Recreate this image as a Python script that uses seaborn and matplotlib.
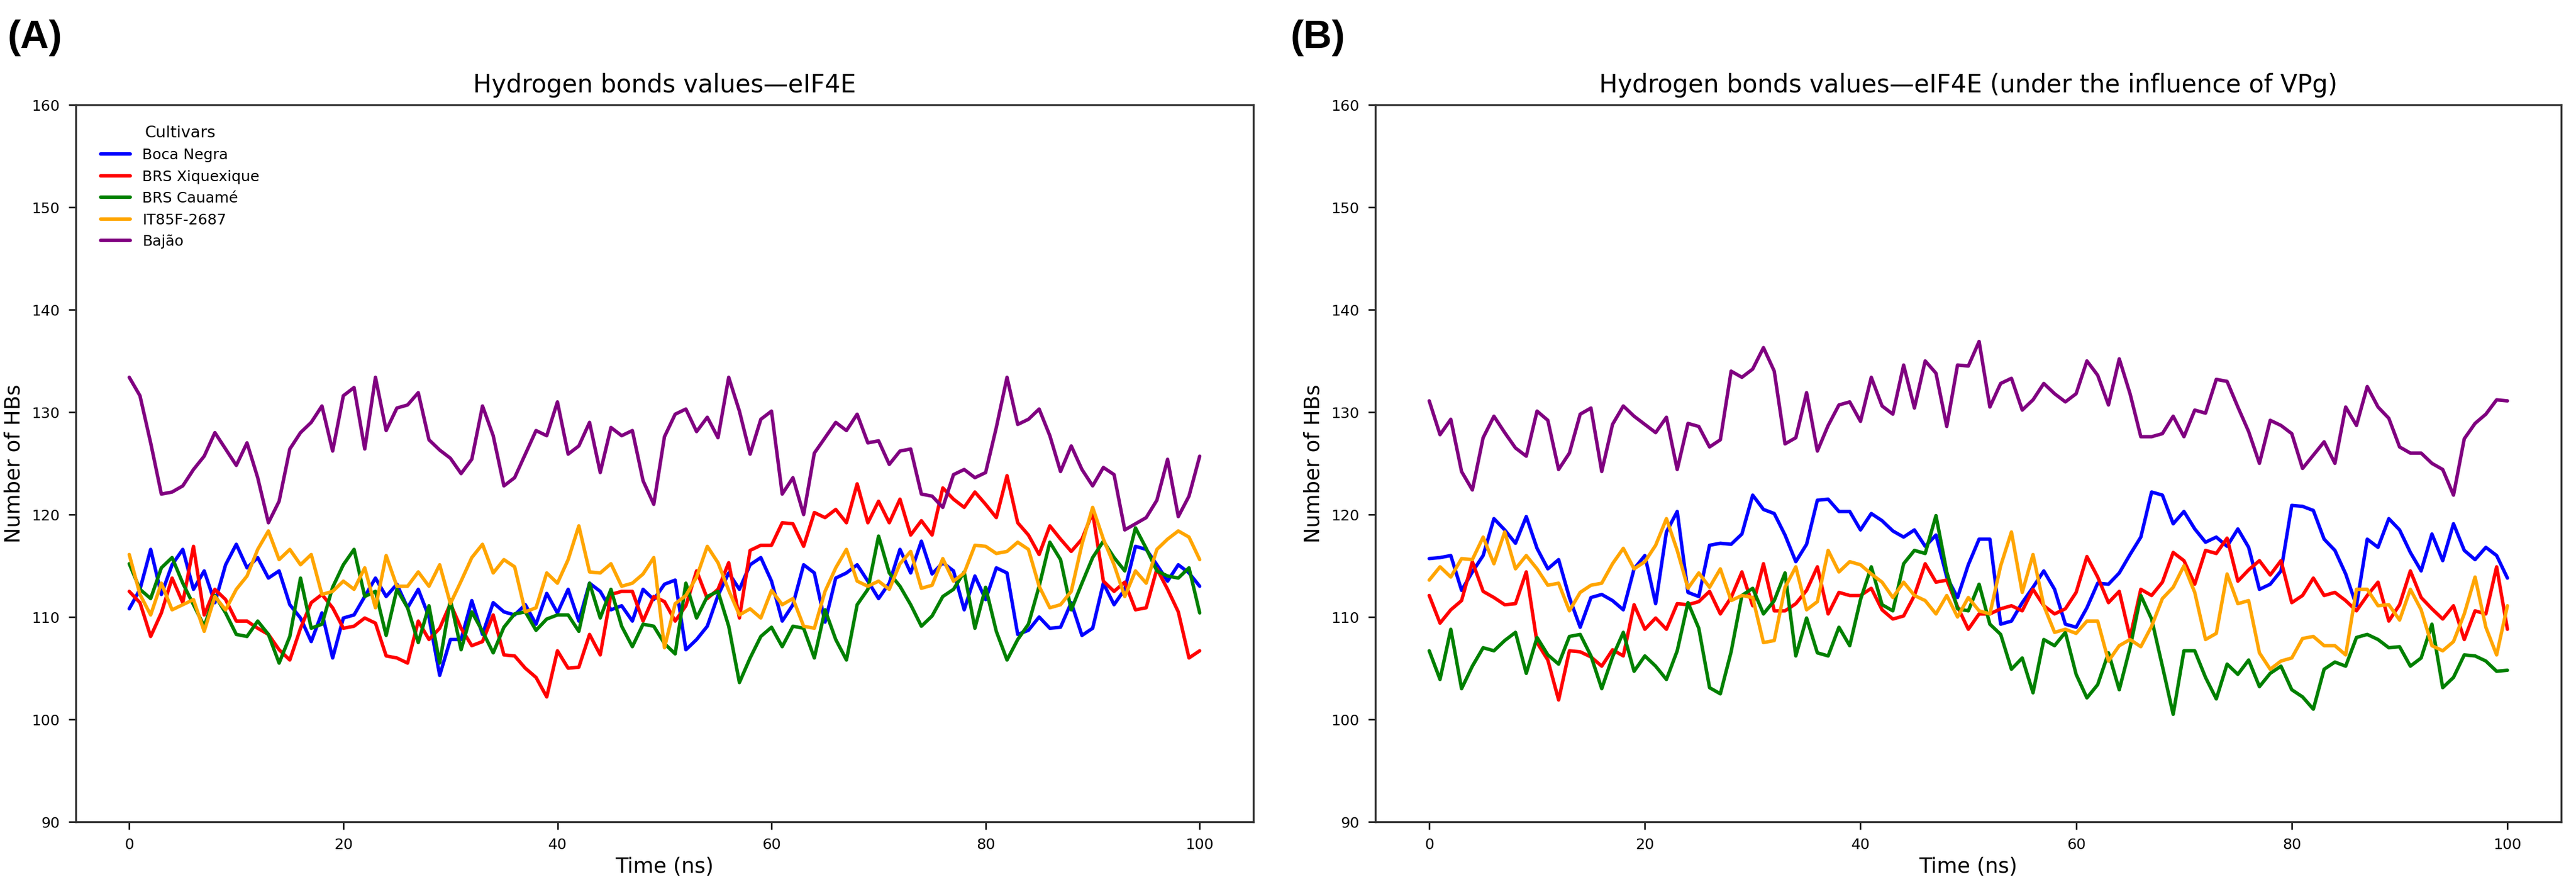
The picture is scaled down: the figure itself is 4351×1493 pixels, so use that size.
import numpy as np
import pandas as pd
import matplotlib
matplotlib.use("Agg")
import matplotlib.pyplot as plt
import seaborn as sns

# time axis (ns), sampled every 1 ns
time_ns = np.arange(0, 101)

cultivars = ["Boca Negra", "BRS Xiquexique", "BRS Cauamé", "IT85F-2687", "Bajão"]
colors = ["blue", "red", "green", "orange", "purple"]

# --- (A) eIF4E ---
a_boca = [110.8, 112.7, 116.6, 112.2, 115.1, 116.6, 112.7, 114.5, 111.4, 115.1,
          117.1, 114.8, 115.8, 113.8, 114.5, 111.2, 109.9, 107.6, 110.4, 106.0,
          109.9, 110.2, 112.0, 113.8, 112.0, 113.2, 110.9, 112.7, 110.0, 104.3,
          107.8, 107.8, 111.6, 108.3, 111.4, 110.5, 110.2, 111.2, 109.3, 112.3,
          110.4, 112.7, 109.6, 113.3, 112.5, 110.7, 111.1, 109.6, 112.7, 111.7,
          113.2, 113.6, 106.8, 107.8, 109.1, 112.1, 114.3, 112.7, 115.1, 115.8,
          113.5, 109.6, 111.2, 115.1, 114.3, 109.5, 113.8, 114.3, 115.1, 113.5,
          111.8, 113.3, 116.6, 114.3, 117.4, 114.2, 115.3, 114.5, 110.7, 114.0,
          111.7, 114.8, 114.3, 108.3, 108.7, 110.0, 108.9, 109.0, 111.4, 108.2,
          108.9, 113.3, 111.2, 112.7, 116.9, 116.6, 115.1, 113.5, 115.1, 114.3,
          113.0]
a_xiquexique = [112.5, 111.4, 108.1, 110.4, 113.8, 111.4, 116.9, 110.2, 112.7, 111.7,
                109.6, 109.6, 108.9, 108.3, 106.8, 105.8, 108.9, 111.4, 112.2, 110.9,
                108.9, 109.1, 109.9, 109.4, 106.2, 106.0, 105.5, 109.6, 107.8, 108.9,
                111.3, 108.9, 107.2, 107.6, 110.2, 106.3, 106.2, 105.0, 104.1, 102.2,
                106.7, 105.0, 105.1, 108.3, 106.3, 112.2, 112.5, 112.5, 109.6, 112.0,
                111.5, 109.6, 111.1, 114.5, 111.8, 112.7, 115.3, 109.9, 116.5, 117.0,
                117.0, 119.2, 119.1, 116.9, 120.2, 119.7, 120.5, 119.2, 123.0, 119.2,
                121.3, 119.2, 121.5, 118.0, 119.4, 118.0, 122.6, 121.5, 120.7, 122.2,
                121.0, 119.7, 123.8, 119.2, 118.0, 116.1, 118.9, 117.6, 116.4, 117.6,
                120.2, 113.5, 112.5, 113.4, 110.7, 110.9, 114.7, 112.7, 110.5, 106.0,
                106.7]
a_cauame = [115.2, 112.7, 111.8, 114.8, 115.8, 113.3, 111.2, 109.1, 112.1, 110.4,
            108.3, 108.1, 109.6, 108.3, 105.5, 108.1, 113.8, 108.9, 109.3, 112.9,
            115.1, 116.6, 112.0, 112.5, 108.2, 112.7, 110.9, 107.5, 111.1, 105.5,
            111.7, 106.8, 110.5, 108.6, 106.5, 109.0, 110.3, 110.5, 108.7, 109.8,
            110.2, 110.2, 108.6, 113.3, 109.9, 112.7, 109.1, 107.1, 109.3, 109.1,
            107.4, 106.4, 113.3, 109.9, 112.0, 112.5, 109.1, 103.6, 106.0, 108.1,
            109.0, 107.1, 109.1, 108.9, 106.0, 110.7, 107.8, 105.8, 111.2, 112.7,
            117.9, 114.3, 113.0, 111.2, 109.1, 110.1, 112.0, 112.7, 114.4, 108.9,
            112.9, 108.6, 105.8, 107.8, 109.3, 113.0, 117.3, 115.6, 110.7, 113.3,
            115.8, 117.4, 115.8, 114.5, 118.7, 116.7, 114.5, 114.0, 113.8, 114.8,
            110.4]
a_it85f = [116.1, 112.2, 110.2, 113.3, 110.7, 111.2, 111.7, 108.6, 112.0, 110.7,
           112.7, 114.0, 116.6, 118.4, 115.6, 116.6, 115.1, 116.1, 112.2, 112.5,
           113.5, 112.7, 114.8, 110.9, 116.0, 113.0, 113.0, 114.4, 113.0, 115.1,
           111.3, 113.5, 115.8, 117.1, 114.3, 115.6, 114.9, 110.5, 110.9, 114.3,
           113.3, 115.6, 118.9, 114.4, 114.3, 115.2, 113.0, 113.3, 114.2, 115.8,
           107.0, 111.3, 112.1, 113.9, 116.9, 115.3, 112.6, 110.2, 110.8, 109.9,
           112.6, 111.2, 111.8, 109.1, 108.9, 112.5, 114.8, 116.6, 113.5, 113.0,
           113.5, 112.7, 115.2, 116.4, 112.8, 113.1, 115.7, 113.5, 114.3, 117.0,
           116.9, 116.2, 116.4, 117.3, 116.6, 113.0, 110.9, 111.2, 112.5, 117.1,
           120.7, 117.6, 115.1, 112.0, 114.5, 113.3, 116.6, 117.6, 118.4, 117.8,
           115.6]
a_bajao = [133.4, 131.6, 127.0, 122.0, 122.2, 122.8, 124.4, 125.7, 128.0, 126.4,
           124.8, 127.0, 123.6, 119.2, 121.3, 126.4, 128.0, 129.0, 130.6, 126.2,
           131.6, 132.4, 126.4, 133.4, 128.2, 130.4, 130.7, 131.9, 127.3, 126.3,
           125.5, 124.0, 125.4, 130.6, 127.7, 122.8, 123.6, 125.9, 128.2, 127.7,
           131.0, 125.9, 126.7, 129.0, 124.1, 128.5, 127.7, 128.2, 123.3, 121.0,
           127.6, 129.8, 130.3, 128.1, 129.5, 127.5, 133.4, 130.1, 125.9, 129.3,
           130.1, 122.0, 123.6, 120.0, 126.0, 127.5, 129.0, 128.2, 129.8, 127.0,
           127.2, 124.9, 126.2, 126.4, 122.0, 121.8, 120.7, 123.9, 124.4, 123.6,
           124.1, 128.5, 133.4, 128.8, 129.3, 130.3, 127.7, 124.2, 126.7, 124.4,
           122.8, 124.6, 123.9, 118.5, 119.1, 119.7, 121.4, 125.4, 119.8, 121.8,
           125.7]

# --- (B) eIF4E under the influence of VPg ---
b_boca = [115.7, 115.8, 116.0, 112.6, 114.4, 116.0, 119.6, 118.5, 117.2, 119.8,
          116.7, 114.7, 115.6, 111.9, 109.0, 111.9, 112.2, 111.6, 110.7, 114.7,
          116.0, 111.3, 118.3, 120.3, 112.4, 112.0, 117.0, 117.2, 117.1, 118.1,
          121.9, 120.5, 120.1, 118.0, 115.4, 117.1, 121.4, 121.5, 120.3, 120.3,
          118.5, 120.1, 119.4, 118.4, 117.8, 118.5, 116.9, 118.0, 113.9, 111.9,
          115.1, 117.6, 117.6, 109.3, 109.6, 111.4, 112.9, 114.5, 112.7, 109.3,
          109.0, 110.9, 113.3, 113.2, 114.3, 116.1, 117.8, 122.2, 121.9, 119.1,
          120.3, 118.6, 117.3, 117.8, 116.9, 118.6, 116.8, 112.7, 113.2, 114.5,
          120.9, 120.8, 120.4, 117.6, 116.5, 114.2, 111.1, 117.6, 116.8, 119.6,
          118.5, 116.3, 114.5, 118.1, 115.5, 119.1, 116.5, 115.6, 116.8, 116.0,
          113.8]
b_xiquexique = [112.1, 109.4, 110.7, 111.6, 115.4, 112.5, 111.9, 111.2, 111.3, 114.4,
                107.5, 105.8, 101.9, 106.7, 106.6, 106.1, 105.2, 106.8, 106.2, 111.2,
                108.8, 109.9, 108.8, 111.3, 111.2, 111.5, 112.5, 110.3, 111.9, 114.4,
                111.1, 115.2, 110.6, 110.6, 111.3, 112.6, 114.9, 110.3, 112.4, 112.1,
                112.1, 112.8, 110.7, 109.8, 110.1, 112.1, 115.2, 113.4, 113.6, 111.0,
                108.8, 110.3, 110.3, 110.8, 111.1, 110.6, 112.7, 111.1, 110.3, 110.8,
                112.4, 115.9, 113.9, 111.4, 112.5, 108.0, 112.7, 112.1, 113.4, 116.3,
                115.5, 113.2, 116.5, 116.2, 117.7, 113.5, 114.6, 115.5, 114.1, 115.5,
                111.4, 112.1, 113.8, 112.1, 112.4, 111.6, 110.6, 112.1, 113.4, 109.6,
                111.2, 114.5, 111.9, 110.8, 109.8, 111.1, 107.8, 110.6, 110.3, 114.9,
                108.8]
b_cauame = [106.7, 103.9, 108.8, 103.0, 105.2, 107.0, 106.7, 107.7, 108.5, 104.5,
            108.0, 106.3, 105.4, 108.1, 108.3, 106.2, 103.0, 106.1, 108.5, 104.7,
            106.2, 105.2, 103.9, 106.7, 111.4, 108.9, 103.1, 102.5, 106.6, 112.1,
            112.8, 110.3, 111.6, 114.3, 106.2, 109.9, 106.5, 106.2, 109.0, 107.2,
            111.7, 114.9, 111.2, 110.6, 115.2, 116.5, 116.2, 119.9, 114.4, 110.8,
            110.6, 113.2, 109.3, 108.3, 104.9, 106.0, 102.6, 107.8, 107.2, 108.5,
            104.4, 102.1, 103.4, 106.5, 102.9, 107.0, 112.1, 109.8, 105.2, 100.5,
            106.7, 106.7, 104.1, 102.0, 105.4, 104.4, 105.8, 103.2, 104.5, 105.2,
            102.9, 102.2, 101.0, 104.9, 105.6, 105.2, 108.0, 108.3, 107.8, 107.0,
            107.1, 105.2, 106.0, 109.3, 103.1, 104.1, 106.3, 106.2, 105.7, 104.7,
            104.8]
b_it85f = [113.6, 114.9, 113.9, 115.7, 115.6, 117.8, 115.2, 118.3, 114.7, 116.0,
           114.7, 113.1, 113.3, 110.6, 112.4, 113.1, 113.3, 115.2, 116.7, 114.7,
           115.4, 117.0, 119.6, 116.5, 112.8, 114.3, 112.9, 114.7, 111.6, 112.1,
           111.9, 107.5, 107.7, 112.9, 114.9, 110.7, 111.5, 116.5, 114.4, 115.4,
           115.1, 114.2, 113.4, 111.9, 113.4, 112.1, 111.6, 110.3, 112.1, 110.0,
           111.9, 110.6, 110.3, 115.0, 118.3, 112.4, 116.1, 111.1, 108.5, 108.8,
           108.4, 109.6, 109.6, 105.7, 107.2, 107.8, 107.1, 109.1, 111.8, 112.9,
           115.0, 112.4, 107.8, 108.4, 114.2, 111.3, 111.6, 106.5, 104.9, 105.7,
           106.0, 107.9, 108.1, 107.2, 107.2, 106.3, 112.7, 112.7, 111.1, 111.2,
           109.7, 112.7, 110.7, 107.2, 106.7, 107.6, 110.3, 113.9, 109.0, 106.3,
           111.1]
b_bajao = [131.1, 127.8, 129.3, 124.2, 122.4, 127.5, 129.6, 128.0, 126.5, 125.7,
           130.1, 129.2, 124.4, 126.0, 129.8, 130.4, 124.2, 128.8, 130.6, 129.6,
           128.8, 128.0, 129.5, 124.4, 128.9, 128.6, 126.6, 127.3, 134.0, 133.4,
           134.2, 136.3, 134.0, 126.9, 127.5, 131.9, 126.2, 128.7, 130.7, 131.0,
           129.1, 133.4, 130.6, 129.8, 134.6, 130.4, 135.0, 133.8, 128.6, 134.6,
           134.5, 136.9, 130.5, 132.8, 133.3, 130.2, 131.2, 132.8, 131.8, 131.0,
           131.8, 135.0, 133.6, 130.7, 135.2, 131.8, 127.6, 127.6, 127.9, 129.6,
           127.6, 130.2, 129.9, 133.2, 133.0, 130.5, 128.1, 125.0, 129.2, 128.7,
           127.9, 124.5, 125.8, 127.1, 125.0, 130.5, 128.7, 132.5, 130.5, 129.4,
           126.6, 126.0, 126.0, 125.0, 124.4, 121.9, 127.4, 128.9, 129.8, 131.2,
           131.1]


def long_table(series):
    frames = []
    for name, vals in zip(cultivars, series):
        frames.append(pd.DataFrame({"Time": time_ns, "HBs": vals, "Cultivars": name}))
    return pd.concat(frames, ignore_index=True)


df_a = long_table([a_boca, a_xiquexique, a_cauame, a_it85f, a_bajao])
df_b = long_table([b_boca, b_xiquexique, b_cauame, b_it85f, b_bajao])
palette = dict(zip(cultivars, colors))

sns.set_style("ticks")
plt.rcParams["font.family"] = ["DejaVu Sans"]
plt.rcParams["text.color"] = "black"
plt.rcParams["axes.labelcolor"] = "black"
plt.rcParams["xtick.color"] = "black"
plt.rcParams["ytick.color"] = "black"
plt.rcParams["axes.edgecolor"] = "#333333"

fig = plt.figure(figsize=(4351 / 300, 1493 / 300), dpi=300)
ax_a = fig.add_axes([0.0294, 0.0703, 0.4571, 0.8111])
ax_b = fig.add_axes([0.5339, 0.0703, 0.4604, 0.8111])

panels = [
    (ax_a, df_a, "Hydrogen bonds values\u2014eIF4E", "(A)", 0.003),
    (ax_b, df_b, "Hydrogen bonds values\u2014eIF4E (under the influence of VPg)", "(B)", 0.501),
]

for ax, df, title, tag, tag_x in panels:
    sns.lineplot(data=df, x="Time", y="HBs", hue="Cultivars", palette=palette,
                 hue_order=cultivars, linewidth=1.4, ax=ax, legend=(tag == "(A)"))
    ax.set_ylim(90, 160)
    ax.set_xlim(-5, 105)
    ax.set_yticks(range(90, 161, 10))
    ax.set_xticks(range(0, 101, 20))
    ax.tick_params(labelsize=6, width=0.6, length=3)
    for sp in ax.spines.values():
        sp.set_linewidth(0.8)
    ax.set_title(title, fontsize=10, pad=5)
    ax.set_xlabel("Time (ns)", fontsize=8.5, labelpad=2)
    ax.set_ylabel("Number of HBs", fontsize=8.5, labelpad=3)
    fig.text(tag_x, 0.978, tag, fontsize=16, fontweight="bold",
             family=["Liberation Sans", "DejaVu Sans"], va="top", ha="left")

leg = ax_a.legend(title="Cultivars", loc="upper left", frameon=False,
                  fontsize=6, title_fontsize=6.5, bbox_to_anchor=(0.01, 0.99))

fig.savefig("out.png", dpi=300)
